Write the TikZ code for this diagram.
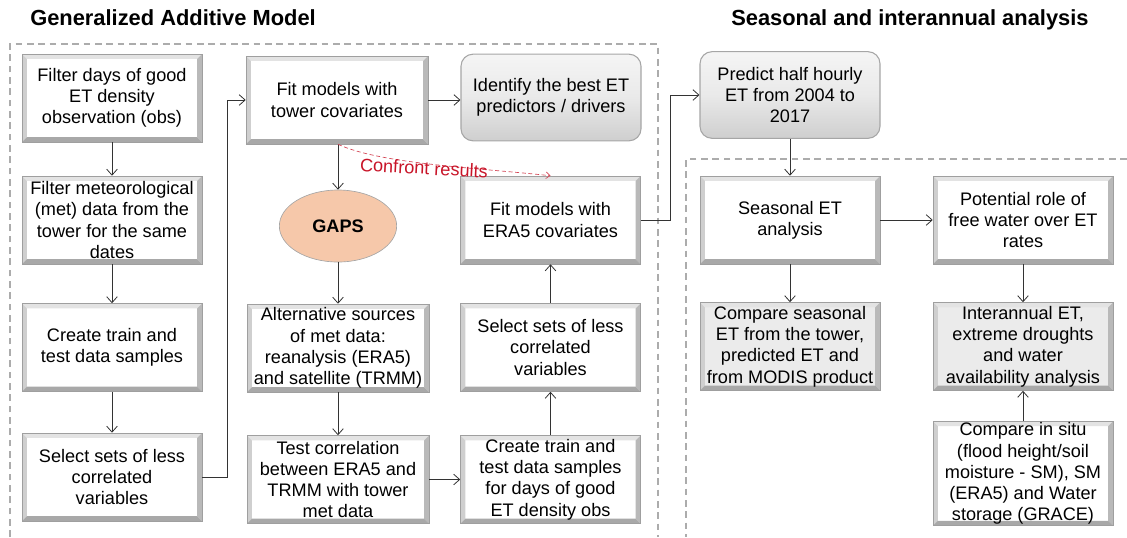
\documentclass[tikz,border=0pt]{standalone}
\usepackage{fontspec}
\setmainfont{Liberation Sans}
\usetikzlibrary{shapes.geometric,arrows.meta,calc}
\definecolor{gapsfill}{RGB}{246,200,170}
\definecolor{confred}{RGB}{200,20,40}
\newcommand\bxfont{\fontsize{13.6}{15.9}\selectfont}
\newcommand\bw{3.6pt}
\tikzset{
  bevelpic/.style={path picture={
    \path (path picture bounding box.north west) coordinate (pNW)
          (path picture bounding box.north east) coordinate (pNE)
          (path picture bounding box.south west) coordinate (pSW)
          (path picture bounding box.south east) coordinate (pSE);
    \fill[gray!22] (pNW) -- (pNE) -- ([shift={(-\bw,-\bw)}]pNE) -- ([shift={(\bw,-\bw)}]pNW) -- cycle;
    \fill[gray!38] (pNW) -- (pSW) -- ([shift={(\bw,\bw)}]pSW) -- ([shift={(\bw,-\bw)}]pNW) -- cycle;
    \fill[gray!55] (pNE) -- (pSE) -- ([shift={(-\bw,\bw)}]pSE) -- ([shift={(-\bw,-\bw)}]pNE) -- cycle;
    \fill[gray!68] (pSW) -- (pSE) -- ([shift={(-\bw,\bw)}]pSE) -- ([shift={(\bw,\bw)}]pSW) -- cycle;
  }},
  bx/.style={rectangle, minimum width=135pt, minimum height=66pt, inner sep=1pt,
    fill=white, draw=gray!75, line width=0.4pt, align=center, font=\bxfont, bevelpic},
  gbx/.style={bx, fill=gray!16},
  rbx/.style={rectangle, rounded corners=9pt, minimum width=135pt, minimum height=65pt, inner sep=1pt,
    top color=gray!8, bottom color=gray!38, middle color=gray!17, draw=gray!70, line width=0.8pt,
    align=center, font=\bxfont},
  gaps/.style={ellipse, minimum width=88pt, minimum height=54pt, fill=gapsfill, draw=gray!70,
    line width=0.5pt, font=\bxfont\bfseries},
  arr/.style={draw=black!80, line width=0.6pt, -{Straight Barb[length=4.5pt,width=8pt]}},
  frame/.style={draw=gray!65, line width=1.2pt, dash pattern=on 5pt off 3.5pt},
  ttl/.style={font=\fontsize{16.4}{19}\selectfont\bfseries, anchor=west, inner sep=0pt},
  confront/.style={draw=confred!80, line width=0.5pt, densely dashed,
    -{Straight Barb[length=3pt,width=5pt]}}
}
\begin{document}
\begin{tikzpicture}[x=0.75pt, y=-0.75pt]
\useasboundingbox (0,0) rectangle (1127,537);
% frames
\draw[frame] (10,537) -- (10,44) -- (658,44) -- (658,537);
\draw[frame] (1127,159) -- (686,159) -- (686,537);
% titles
\node[ttl] (t1) at (30,18) {Generalized Additive Model};
\node[ttl] (t2) at (731,20) {Seasonal and interannual analysis};
% column 1
\node[bx] (A) at (112,98) {Filter days of good\\ET density\\observation (obs)};
\node[bx] (B) at (112,220) {Filter meteorological\\(met) data from the\\tower for the same\\dates};
\node[bx] (C) at (112,347.5) {Create train and\\test data samples};
\node[bx] (D) at (112,477) {Select sets of less\\correlated\\variables};
% column 2
\node[bx, minimum width=136.5pt] (E) at (337,100) {Fit models with\\tower covariates};
\node[gaps] (GAPS) at (338,226) {GAPS};
\node[bx, minimum width=136.5pt] (H) at (338,348) {Alternative sources\\of met data:\\reanalysis (ERA5)\\and satellite (TRMM)};
\node[bx, minimum width=136.5pt] (I) at (338,479.5) {Test correlation\\between ERA5 and\\TRMM with tower\\met data};
% column 3
\node[rbx] (F) at (551,97.5) {Identify the best ET\\predictors / drivers};
\node[bx] (G) at (550.5,220) {Fit models with\\ERA5 covariates};
\node[bx] (J) at (550.5,347.5) {Select sets of less\\correlated\\variables};
\node[bx] (K) at (550.5,479.5) {Create train and\\test data samples\\for days of good\\ET density obs};
% column 4
\node[rbx] (L) at (790,95) {Predict half hourly\\ET from 2004 to\\2017};
\node[bx] (M) at (790,220) {Seasonal ET\\analysis};
\node[gbx] (O) at (790,346.5) {Compare seasonal\\ET from the tower,\\predicted ET and\\from MODIS product};
% column 5
\node[bx] (N) at (1023,220) {Potential role of\\free water over ET\\rates};
\node[gbx] (P) at (1023,346.5) {Interannual ET,\\extreme droughts\\and water\\availability analysis};
\node[bx, minimum height=77pt] (Q) at (1023,473.5) {Compare in situ\\(flood height/soil\\moisture - SM), SM\\(ERA5) and Water\\storage (GRACE)};
% helper coordinates
\coordinate (dx) at (227,0);
\coordinate (gx) at (670,0);
% connectors
\draw[arr] (A) -- (B);
\draw[arr] (B) -- (C);
\draw[arr] (C) -- (D);
\draw[arr] (D.east) -- (D.east -| dx) |- (E.west);
\draw[arr] (E.east) -- (E.east -| F.west);
\draw[arr] (E.south -| GAPS.north) -- (GAPS.north);
\draw[arr] (GAPS) -- (H);
\draw[arr] (H) -- (I);
\draw[arr] (I) -- (K);
\draw[arr] (K) -- (J);
\draw[arr] (J) -- (G);
\draw[arr] (G.east) -- (G.east -| gx) |- (L.west);
\draw[arr] (L) -- (M);
\draw[arr] (M) -- (N);
\draw[arr] (M) -- (O);
\draw[arr] (N) -- (P);
\draw[arr] (Q) -- (P);
% confront results
\draw[confront] (E.south -| GAPS.north) .. controls (380,164) and (480,168) .. (G.north);
\node[text=confred, font=\bxfont, rotate=-3] (cr) at (424,168) {Confront results};
\end{tikzpicture}
\end{document}
